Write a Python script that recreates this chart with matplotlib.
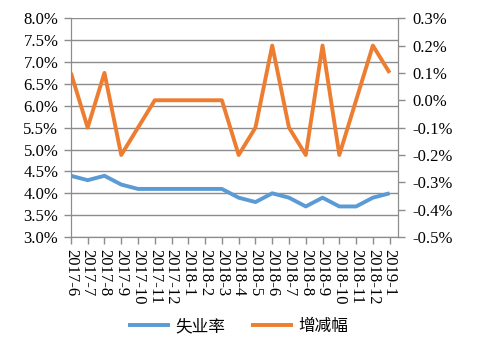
import matplotlib
matplotlib.use("Agg")
import matplotlib.pyplot as plt
from matplotlib.ticker import FuncFormatter, MultipleLocator

plt.rcParams['font.family'] = ['Liberation Serif', 'Noto Sans CJK SC', 'DejaVu Sans']

months = ["2017-6", "2017-7", "2017-8", "2017-9", "2017-10", "2017-11", "2017-12",
          "2018-1", "2018-2", "2018-3", "2018-4", "2018-5", "2018-6", "2018-7",
          "2018-8", "2018-9", "2018-10", "2018-11", "2018-12", "2019-1"]
rate = [4.4, 4.3, 4.4, 4.2, 4.1, 4.1, 4.1, 4.1, 4.1, 4.1,
        3.9, 3.8, 4.0, 3.9, 3.7, 3.9, 3.7, 3.7, 3.9, 4.0]
change = [0.1, -0.1, 0.1, -0.2, -0.1, 0.0, 0.0, 0.0, 0.0, 0.0,
          -0.2, -0.1, 0.2, -0.1, -0.2, 0.2, -0.2, 0.0, 0.2, 0.1]

blue = "#5B9BD5"
orange = "#ED7D31"
grid = "#8c8c8c"

fig = plt.figure(figsize=(4.79, 3.56), dpi=100)
ax = fig.add_axes([0.148, 0.334, 0.683, 0.615])
ax2 = ax.twinx()

x = list(range(len(months)))
l1, = ax.plot(x, rate, color=blue, lw=2.8, label="失业率", solid_capstyle="butt")
l2, = ax2.plot(x, change, color=orange, lw=2.8, label="增减幅", solid_capstyle="butt")

ax.set_ylim(3.0, 8.0)
ax.yaxis.set_major_locator(MultipleLocator(0.5))
ax.yaxis.set_major_formatter(FuncFormatter(lambda v, p: f"{v:.1f}%"))
ax2.set_ylim(-0.5, 0.3)
ax2.yaxis.set_major_locator(MultipleLocator(0.1))
ax2.yaxis.set_major_formatter(FuncFormatter(lambda v, p: f"{v:.1f}%"))

ax.set_xlim(0, 19.5)
ax.set_xticks(x)
ax.set_xticklabels(months, rotation=-90, fontsize=12)
ax.grid(axis="y", color=grid, lw=1)
ax.set_axisbelow(True)

for a in (ax, ax2):
    a.spines["top"].set_visible(False)
    for s in ("left", "right", "bottom"):
        a.spines[s].set_color(grid)
    a.tick_params(axis="both", colors=grid, labelcolor="black", labelsize=12,
                  length=5, width=1, direction="out")
ax2.tick_params(axis="y", pad=5)
ax.tick_params(axis="y", pad=4)

fig.legend(handles=[l1, l2], loc="center", bbox_to_anchor=(0.497, 0.083), ncol=2,
           frameon=False, prop={"family": "Noto Sans CJK SC", "size": 12},
           handlelength=2.5, columnspacing=1.6, handletextpad=0.3)

fig.savefig("out.png", dpi=100)
